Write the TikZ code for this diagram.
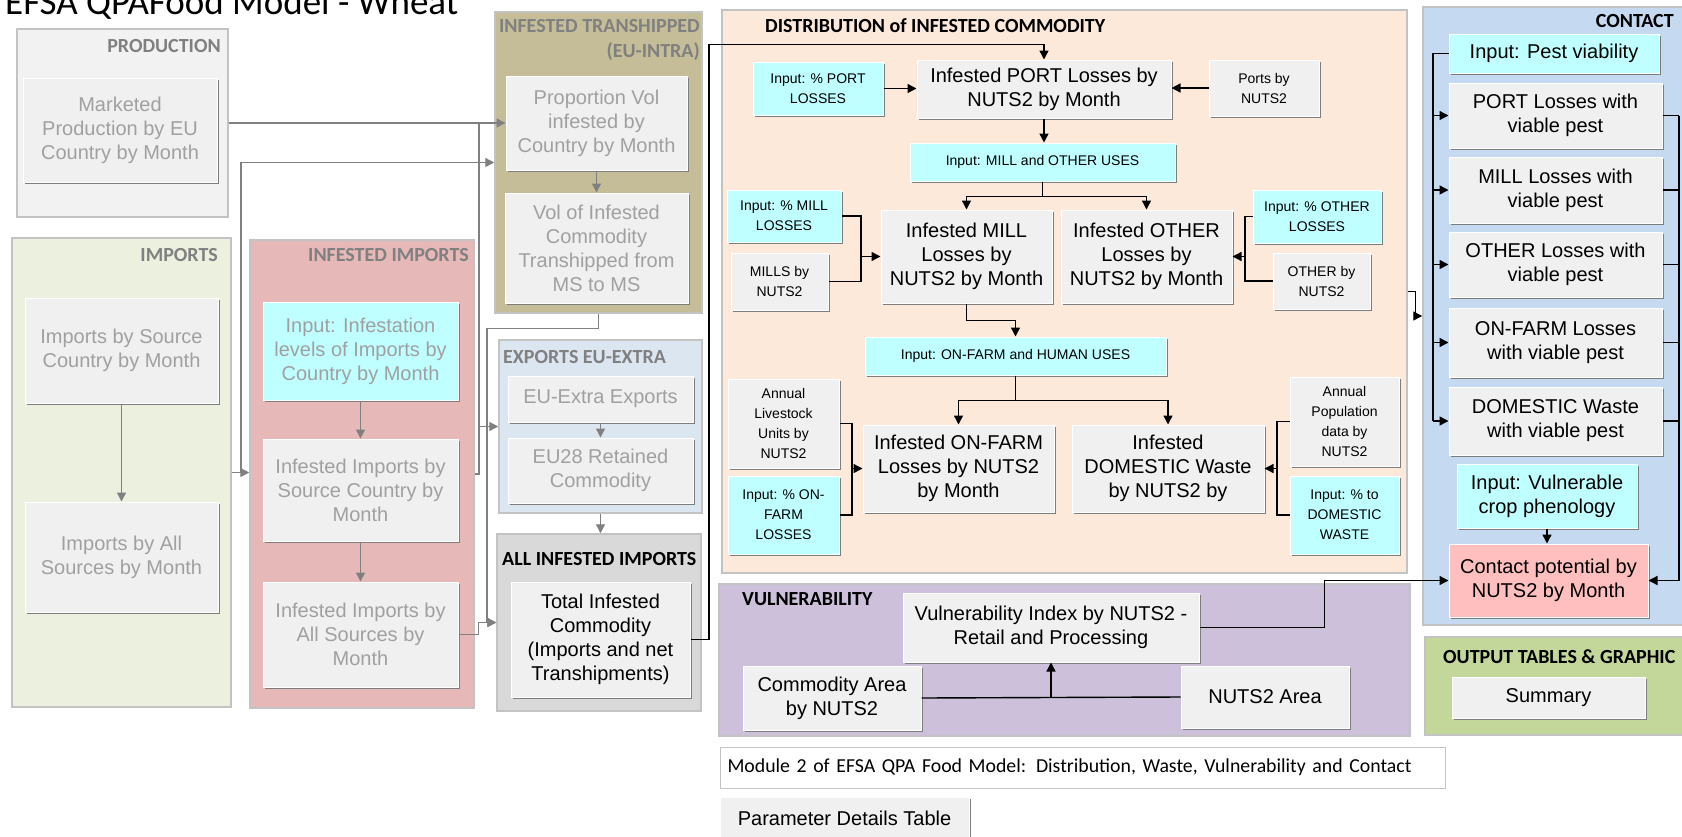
\documentclass[tikz,border=0pt]{standalone}
\usepackage{fontspec}
\setmainfont{Liberation Sans}
\newfontfamily\calibri{Carlito}
\usepackage{tikz}
\usetikzlibrary{arrows.meta,shadows}

\definecolor{boxfill}{RGB}{240,240,240}
\definecolor{inputcyan}{RGB}{191,255,255}
\definecolor{potpink}{RGB}{255,191,191}
\definecolor{bevel}{RGB}{125,125,125}
\definecolor{faint}{RGB}{160,160,160}
\definecolor{linegray}{RGB}{128,128,128}
\definecolor{frame}{RGB}{195,195,195}
\definecolor{titlegray}{RGB}{128,128,128}
\definecolor{prodbg}{RGB}{242,242,242}
\definecolor{impbg}{RGB}{235,241,222}
\definecolor{infbg}{RGB}{230,184,183}
\definecolor{transbg}{RGB}{196,189,151}
\definecolor{expbg}{RGB}{220,230,241}
\definecolor{allbg}{RGB}{217,217,217}
\definecolor{distbg}{RGB}{253,233,217}
\definecolor{contbg}{RGB}{197,217,241}
\definecolor{vulnbg}{RGB}{204,192,218}
\definecolor{outbg}{RGB}{196,215,155}

\begin{document}
\begin{tikzpicture}[x=1pt, y=-1pt, >={Triangle[length=9pt,width=9pt]},
	grp/.style={draw=frame, line width=1.5pt, inner sep=0pt},
	grptitle/.style={font=\calibri\bfseries\fontsize{20}{24}\selectfont, inner sep=0pt},
	box/.style={fill=boxfill, draw=white, line width=1pt, align=center, inner sep=2pt,
		drop shadow={shadow xshift=2pt, shadow yshift=-2pt, fill=bevel, opacity=1},
		font=\fontsize{20}{24}\selectfont},
	faintbox/.style={box, text=faint},
	inbox/.style={box, fill=inputcyan},
	small/.style={font=\fontsize{14}{20}\selectfont},
	wh/.style 2 args={minimum width=#1pt, minimum height=#2pt},
	link/.style={draw=linegray, line width=1.4pt},
	blink/.style={draw=black, line width=1.4pt}]
	\useasboundingbox (0,0) rectangle (1682,836);
	\fill[white] (0,0) rectangle (1682,836);
	\clip (0,0) rectangle (1682,836);

	\node[font=\calibri\fontsize{37}{40}\selectfont, anchor=base west, inner sep=0pt] (title) at (5,14) {EFSA QPAFood Model - Wheat};

	% groups
	\node[grp, fill=prodbg, wh={211}{188}] (gProd) at (122.5,123) {};
	\node[grp, fill=impbg, wh={219}{469}] (gImp) at (121.5,472.5) {};
	\node[grp, fill=infbg, wh={224}{468}] (gInfImp) at (362,474) {};
	\node[grp, fill=transbg, wh={207}{301}] (gTrans) at (598.5,162.5) {};
	\node[grp, fill=expbg, wh={203}{173}] (gExp) at (600.5,426.5) {};
	\node[grp, fill=allbg, wh={204}{177}] (gAll) at (599,622.5) {};
	\node[grp, fill=distbg, wh={685}{563}] (gDist) at (1064.5,291.5) {};
	\node[grp, fill=contbg, wh={272}{618}] (gCont) at (1559,316) {};
	\node[grp, fill=vulnbg, wh={691}{152}] (gVuln) at (1064.5,660) {};
	\node[grp, fill=outbg, wh={270}{98}] (gOut) at (1560,686) {};

	\node[grptitle, text=titlegray, anchor=base east] (tProd) at (221,52) {PRODUCTION};
	\node[grptitle, text=titlegray, anchor=base east] (tImp) at (218,261) {IMPORTS};
	\node[grptitle, text=titlegray, anchor=base east] (tInfImp) at (469,261) {INFESTED IMPORTS};
	\node[grptitle, text=titlegray, anchor=base east] (tTrans) at (700,32) {INFESTED TRANSHIPPED};
	\node[grptitle, text=titlegray, anchor=base east] (tTrans2) at (700,57) {(EU-INTRA)};
	\node[grptitle, text=titlegray, anchor=base west] (tExp) at (503,363) {EXPORTS EU-EXTRA};
	\node[grptitle, anchor=base west] (tAll) at (502,565) {ALL INFESTED IMPORTS};
	\node[grptitle, anchor=base west] (tDist) at (765,32) {DISTRIBUTION of INFESTED COMMODITY};
	\node[grptitle, anchor=base east] (tCont) at (1674,27) {CONTACT};
	\node[grptitle, anchor=base west] (tVuln) at (742,605) {VULNERABILITY};
	\node[grptitle, anchor=base west] (tOut) at (1443,663) {OUTPUT TABLES \& GRAPHIC};

	% production, imports, transhipment
	\node[faintbox, wh={194}{104}] (mkt) at (120,130) {Marketed\\Production by EU\\Country by Month};
	\node[faintbox, wh={193}{105}] (impSrc) at (121.5,350.5) {Imports by Source\\Country by Month};
	\node[faintbox, wh={193}{110}] (impAll) at (121.5,557) {Imports by All\\Sources by Month};
	\node[faintbox, fill=inputcyan, wh={195}{98}] (inInf) at (360.5,351) {Input: Infestation\\levels of Imports by\\Country by Month};
	\node[faintbox, wh={195}{102}] (infSrc) at (360.5,490) {Infested Imports by\\Source Country by\\Month};
	\node[faintbox, wh={195}{105}] (infAll) at (360.5,634.5) {Infested Imports by\\All Sources by\\Month};
	\node[faintbox, wh={181}{94}] (propVol) at (596.5,123) {Proportion Vol\\infested by\\Country by Month};
	\node[faintbox, wh={183}{110}] (volTr) at (596.5,248) {Vol of Infested\\Commodity\\Transhipped from\\MS to MS};
	\node[faintbox, wh={185}{46}] (exEx) at (600.5,399) {EU-Extra Exports};
	\node[faintbox, wh={185}{65}] (ret) at (600.5,470.5) {EU28 Retained\\Commodity};
	\node[box, wh={179}{115}] (total) at (600.5,639.5) {Total Infested\\Commodity\\(Imports and net\\Transhipments)};

	% distribution
	\node[box, wh={254}{58}] (port) at (1044,89) {Infested PORT Losses by\\NUTS2 by Month};
	\node[inbox, small, wh={130}{53}] (inPort) at (818,88.5) {Input: \% PORT\\LOSSES};
	\node[box, small, wh={110}{56}] (portsN) at (1264,88) {Ports by\\NUTS2};
	\node[inbox, small, wh={265}{38}] (inMO) at (1042.5,162) {Input: MILL and OTHER USES};
	\node[box, wh={171}{93}] (mill) at (966.5,256.5) {Infested MILL\\Losses by\\NUTS2 by Month};
	\node[box, wh={171}{93}] (other) at (1146.5,256.5) {Infested OTHER\\Losses by\\NUTS2 by Month};
	\node[inbox, small, wh={114}{52}] (inMill) at (784,216) {Input: \% MILL\\LOSSES};
	\node[box, small, wh={97}{57}] (millsN) at (779.5,281.5) {MILLS by\\NUTS2};
	\node[inbox, small, wh={128}{53}] (inOther) at (1317,216.5) {Input: \% OTHER\\LOSSES};
	\node[box, small, wh={97}{56}] (otherN) at (1321.5,281) {OTHER by\\NUTS2};
	\node[inbox, small, wh={301}{38}] (inFH) at (1015.5,356) {Input: ON-FARM and HUMAN USES};
	\node[box, wh={191}{87}] (onfarm) at (958.5,468.5) {Infested ON-FARM\\Losses by NUTS2\\by Month};
	\node[box, wh={192}{87}] (dom) at (1168,468.5) {Infested\\DOMESTIC Waste\\by NUTS2 by};
	\node[box, small, wh={111}{89}] (livest) at (783.5,423.5) {Annual\\Livestock\\Units by\\NUTS2};
	\node[inbox, small, wh={111}{78}] (inOF) at (783.5,515) {Input: \% ON-\\FARM\\LOSSES};
	\node[box, small, wh={109}{89}] (popN) at (1344.5,421.5) {Annual\\Population\\data by\\NUTS2};
	\node[inbox, small, wh={109}{78}] (inDom) at (1344.5,515) {Input: \% to\\DOMESTIC\\WASTE};

	% contact
	\node[inbox, wh={210}{39}] (inPest) at (1554,53.5) {Input: Pest viability};
	\node[box, wh={213}{65}] (cPort) at (1555.5,115.5) {PORT Losses with\\viable pest};
	\node[box, wh={213}{66}] (cMill) at (1555.5,190) {MILL Losses with\\viable pest};
	\node[box, wh={213}{65}] (cOther) at (1555.5,264.5) {OTHER Losses with\\viable pest};
	\node[box, wh={213}{69}] (cFarm) at (1555.5,342.5) {ON-FARM Losses\\with viable pest};
	\node[box, wh={213}{68}] (cDom) at (1555.5,421) {DOMESTIC Waste\\with viable pest};
	\node[inbox, wh={180}{64}] (inVul) at (1547,496) {Input: Vulnerable\\crop phenology};
	\node[box, fill=potpink, wh={199}{73}] (cPot) at (1548.5,580.5) {Contact potential by\\NUTS2 by Month};
	\node[box, wh={193}{41}] (summ) at (1548.5,697.5) {Summary};

	% vulnerability
	\node[box, wh={296}{69}] (vIdx) at (1051,627.5) {Vulnerability Index by NUTS2 -\\Retail and Processing};
	\node[box, wh={178}{64}] (cArea) at (832,698) {Commodity Area\\by NUTS2};
	\node[box, wh={168}{62}] (nArea) at (1265,697) {NUTS2 Area};

	\node[draw=frame, line width=1pt, fill=white, text width=710pt, inner xsep=7.5pt, minimum height=41pt, align=left,
		font=\calibri\fontsize{19.8}{22}\selectfont] (module) at (1082.5,767.5) {Module 2 of EFSA QPA Food Model: Distribution, Waste, Vulnerability and Contact};
	\node[box, wh={249}{42}] (param) at (844.5,818) {Parameter Details Table};

	% bus lines
	\coordinate (busI) at (241,0);
	\coordinate (busE) at (479,0);
	\coordinate (busA) at (487,0);
	\coordinate (busT) at (709,0);
	\coordinate (busM) at (861,0);
	\coordinate (busO) at (1245,0);
	\coordinate (busL) at (852,0);
	\coordinate (busP) at (1277,0);
	\coordinate (busV) at (1433,0);
	\coordinate (busR) at (1679,0);

	\draw[link,->] (gProd.east) -- (gProd.east -| propVol.west);
	\draw[link] (gInfImp.east) -| (busE |- gProd.east);
	\draw[link,->] (busE |- gExp.west) -- (gExp.west);
	\draw[link,->] (gImp.east) -- (gImp.east -| gInfImp.west);
	\draw[link,->] (busI |- gImp.east) |- (gTrans.west);
	\draw[link,->] (gTrans.south) -- ++(0,15) -| (busA |- gAll.west) -- (gAll.west);
	\draw[link,->] (infAll.east) -- ++(20,0) |- (gAll.west);
	\draw[link,->] (impSrc) -- (impAll);
	\draw[link,->] (inInf) -- (infSrc);
	\draw[link,->] (infSrc) -- (infAll);
	\draw[link,->] (propVol) -- (volTr);
	\draw[link,->] (exEx) -- (ret);
	\draw[link,->] (gExp.south) -- (gExp.south |- gAll.north);

	\draw[blink,->] (total.east) -- (busT |- total.east) |- ([yshift=15pt]port.north) -- (port.north);
	\draw[blink,->] (inPort.east) -- (inPort.east -| port.west);
	\draw[blink,->] (portsN.west) -- (portsN.west -| port.east);
	\draw[blink,->] (port.south) -- (port.south |- inMO.north);
	\draw[blink,->] (inMO.south) -- ++(0,15) -| (mill.north);
	\draw[blink,->] (inMO.south) -- ++(0,15) -| (other.north);
	\draw[blink] (inMill.east) -| (busM |- millsN.east) -- (millsN.east);
	\draw[blink,->] (busM |- mill.west) -- (mill.west);
	\draw[blink] (inOther.west) -| (busO |- otherN.west) -- (otherN.west);
	\draw[blink,->] (busO |- other.east) -- (other.east);
	\draw[blink,->] (mill.south) -- ++(0,17) -| (inFH.north);
	\draw[blink,->] (inFH.south) -- ++(0,25) -| (onfarm.north);
	\draw[blink,->] (inFH.south) -- ++(0,25) -| (dom.north);
	\draw[blink] (livest.east) -| (busL |- inOF.east) -- (inOF.east);
	\draw[blink,->] (busL |- onfarm.west) -- (onfarm.west);
	\draw[blink] (popN.west) -| (busP |- inDom.west) -- (inDom.west);
	\draw[blink,->] (busP |- dom.east) -- (dom.east);
	\draw[blink,->] (gDist.east) -- ++(8,0) |- (gCont.west);

	\draw[blink] (inPest.west) -| (busV |- cDom.west);
	\foreach \bx in {cPort,cMill,cOther,cFarm,cDom}{
		\draw[blink,->] (busV |- \bx.west) -- (\bx.west);
		\draw[blink] (\bx.east) -- (busR |- \bx.east);
	}
	\draw[blink,->] (busR |- cPort.east) |- (cPot.east);
	\draw[blink,->] (inVul.south) -- (inVul.south |- cPot.north);
	\draw[blink,->] (vIdx.east) -- ++(125,0) |- (cPot.west);
	\draw[blink] (cArea.east) -- (nArea.west);
	\draw[blink,->] (vIdx.south |- cArea.east) -- (vIdx.south);
\end{tikzpicture}
\end{document}
